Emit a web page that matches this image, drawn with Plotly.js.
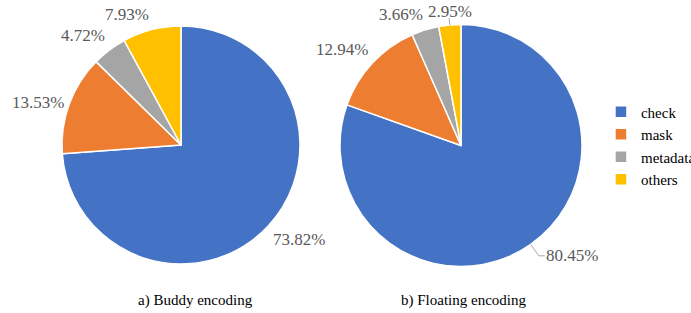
<!DOCTYPE html>
<html>
<head>
<meta charset="utf-8">
<script src="https://cdn.plot.ly/plotly-3.0.1.min.js"></script>
<style>html,body{margin:0;padding:0;background:#fff;}#chart{width:691px;height:313px;}</style>
</head>
<body>
<div id="chart"></div>
<script>
const categories = ["check", "mask", "metadata", "others"];
const buddyValues = [73.82, 13.53, 4.72, 7.93];
const floatingValues = [80.45, 12.94, 3.66, 2.95];
const subtitles = ["a) Buddy encoding", "b) Floating encoding"];
const colors = ["#4472C4", "#ED7D31", "#A5A5A5", "#FFC000"];
const FONT = "Liberation Serif";

const W = 691, H = 313;
// pie geometry (pixels) and label styling
const pies = [
  {values: buddyValues, cx: 181, cy: 145, r: 119,
   leaders: [null, null, null, null], title: subtitles[0], titleX: 195},
  {values: floatingValues, cx: 461, cy: 145.5, r: 121,
   leaders: [{line: 14, gap: 14, tick: 6}, null, null, {line: 7, gap: 3, tick: 0}], title: subtitles[1], titleX: 463}
];
const LABEL_GAP = 5;

const data = [];
const annotations = [];
const shapes = [];
const toX = px => px / W, toY = py => 1 - py / H;

pies.forEach((p, pi) => {
  data.push({
    type: "pie",
    labels: categories,
    values: p.values,
    textinfo: "none",
    sort: false,
    direction: "clockwise",
    rotation: 0,
    hoverinfo: "label+value",
    marker: {colors: colors, line: {color: "#ffffff", width: 1.5}},
    domain: {x: [toX(p.cx - p.r), toX(p.cx + p.r)], y: [toY(p.cy + p.r), toY(p.cy - p.r)]},
    showlegend: pi === 0
  });
  const total = p.values.reduce((a, b) => a + b, 0);
  let cum = 0;
  p.values.forEach((v, i) => {
    const th = 2 * Math.PI * (cum + v / 2) / total;
    cum += v;
    const s = Math.sin(th), c = Math.cos(th);
    const ld = p.leaders[i];
    const R = p.r + (ld ? ld.gap : LABEL_GAP);
    let px = p.cx + R * s, py = p.cy - R * c;
    const xa = Math.abs(s) < 0.15 ? "center" : (s > 0 ? "left" : "right");
    let ya = Math.abs(c) < 0.4 ? "middle" : (c > 0 ? "bottom" : "top");
    if (ld) {
      const ex = p.cx + p.r * s, ey = p.cy - p.r * c;
      const lx = p.cx + (p.r + ld.line) * s, ly = p.cy - (p.r + ld.line) * c;
      shapes.push({type: "line", xref: "paper", yref: "paper",
        x0: toX(ex), y0: toY(ey), x1: toX(lx), y1: toY(ly),
        line: {color: "#A6A6A6", width: 1}});
      if (ld.tick) {
        const hx = lx + (s > 0 ? ld.tick : -ld.tick);
        shapes.push({type: "line", xref: "paper", yref: "paper",
          x0: toX(lx), y0: toY(ly), x1: toX(hx), y1: toY(ly),
          line: {color: "#A6A6A6", width: 1}});
        px = hx; py = ly;
        ya = "middle";
      }
    }
    annotations.push({
      text: v.toFixed(2) + "%", x: toX(px), y: toY(py), xref: "paper", yref: "paper",
      xanchor: xa, yanchor: ya, showarrow: false, borderpad: 0,
      font: {family: FONT, size: 17, color: "#595959"}
    });
  });
  annotations.push({text: p.title, x: toX(p.titleX), y: toY(300), xref: "paper", yref: "paper",
    showarrow: false, xanchor: "center", yanchor: "middle",
    font: {family: FONT, size: 15, color: "#000000"}});
});

const layout = {
  width: W, height: H,
  margin: {l: 0, r: 0, t: 0, b: 0, autoexpand: false},
  paper_bgcolor: "#ffffff",
  font: {family: FONT, color: "#000000"},
  legend: {
    x: 0.8697, y: 0.535, xanchor: "left", yanchor: "middle",
    font: {family: FONT, size: 15, color: "#000000"},
    tracegroupgap: 0, itemwidth: 30
  },
  annotations: annotations,
  shapes: shapes
};

Plotly.newPlot("chart", data, layout, {displayModeBar: false, staticPlot: true});
</script>
</body>
</html>
